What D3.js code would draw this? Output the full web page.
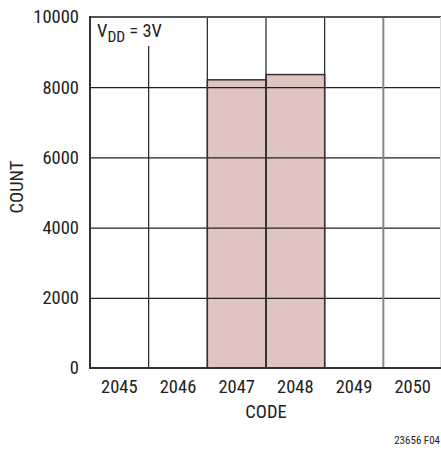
<!DOCTYPE html>
<html>
<head>
<meta charset="utf-8">
<script src="https://cdn.jsdelivr.net/npm/d3@7"></script>
<style>
  html, body { margin: 0; padding: 0; background: #fff; }
  svg { display: block; }
  text { font-family: "Liberation Sans Narrow", "Arial Narrow", "Roboto Condensed", sans-serif; fill: #222; }
</style>
</head>
<body>
<svg id="chart" width="441" height="451"></svg>
<script>
const codes = ["2045", "2046", "2047", "2048", "2049", "2050"];
const counts = [0, 0, 8210, 8360, 0, 0];
const yTicks = [0, 2000, 4000, 6000, 8000, 10000];
const xTitle = "CODE";
const yTitle = "COUNT";
const figId = "23656 F04";

const svg = d3.select("#chart");
const mLeft = 90, mRight = 442, mTop = 17, mBottom = 368;

const x = d3.scaleBand().domain(codes).range([mLeft, mRight]).padding(0);
const y = d3.scaleLinear().domain([0, 10000]).range([mBottom, mTop]);

// bars
svg.append("g").selectAll("rect").data(codes).join("rect")
  .attr("x", d => x(d))
  .attr("width", x.bandwidth())
  .attr("y", (d, i) => y(counts[i]))
  .attr("height", (d, i) => mBottom - y(counts[i]))
  .attr("fill", "#dfc4c0")
  .attr("stroke", "none");

// horizontal grid via axis
const yAxis = svg.append("g").attr("transform", `translate(${mLeft},0)`)
  .call(d3.axisLeft(y).tickValues(yTicks).tickSize(-(mRight - mLeft)).tickPadding(11).tickFormat(d3.format("d")));
yAxis.select(".domain").remove();
yAxis.selectAll(".tick line").attr("stroke", "#222").attr("stroke-width", 1.2);
yAxis.selectAll(".tick text").style("font-size", "18.5px").attr("fill", "#222");

// vertical grid lines at band boundaries
const bounds = codes.slice(1).map(c => x(c));
svg.append("g").selectAll("line").data(bounds).join("line")
  .attr("x1", d => d).attr("x2", d => d)
  .attr("y1", mTop).attr("y2", mBottom)
  .attr("stroke", (d, i) => i === 4 ? "#888" : "#222")
  .attr("stroke-width", (d, i) => i === 4 ? 2 : 1.2);

// bar outlines
svg.append("g").selectAll("rect").data(codes.filter((c, i) => counts[i] > 0)).join("rect")
  .attr("x", d => x(d))
  .attr("width", x.bandwidth())
  .attr("y", d => y(counts[codes.indexOf(d)]))
  .attr("height", d => mBottom - y(counts[codes.indexOf(d)]))
  .attr("fill", "none")
  .attr("stroke", "#333")
  .attr("stroke-width", 1.5);

// VDD label box
svg.append("rect").attr("x", mLeft + 1).attr("y", mTop + 1).attr("width", 76).attr("height", 28).attr("fill", "#fff");
const vdd = svg.append("text").attr("x", 97).attr("y", 37).style("font-size", "18.5px");
vdd.append("tspan").text("V");
vdd.append("tspan").attr("dy", 5).style("font-size", "15.5px").text("DD");
vdd.append("tspan").attr("dy", -5).text(" = 3V");

// frame
svg.append("line").attr("x1", mLeft).attr("x2", mRight).attr("y1", mTop).attr("y2", mTop).attr("stroke", "#555").attr("stroke-width", 2);
svg.append("line").attr("x1", 440.5).attr("x2", 440.5).attr("y1", mTop).attr("y2", mBottom).attr("stroke", "#ddd").attr("stroke-width", 1);
svg.append("line").attr("x1", mLeft).attr("x2", mLeft).attr("y1", mTop - 1).attr("y2", mBottom + 1).attr("stroke", "#333").attr("stroke-width", 2);
svg.append("line").attr("x1", mLeft).attr("x2", mRight).attr("y1", mBottom).attr("y2", mBottom).attr("stroke", "#333").attr("stroke-width", 2);

// x axis labels
const xAxis = svg.append("g").attr("transform", `translate(0,${mBottom})`)
  .call(d3.axisBottom(x).tickSize(0).tickPadding(12));
xAxis.select(".domain").remove();
xAxis.selectAll(".tick text").style("font-size", "18.5px").attr("fill", "#222");

// titles
svg.append("text").attr("x", 266).attr("y", 418).attr("text-anchor", "middle").style("font-size", "18.5px").text(xTitle);
svg.append("text").attr("transform", "translate(23,187) rotate(-90)").attr("text-anchor", "middle").style("font-size", "18.5px").text(yTitle);
svg.append("text").attr("x", 440).attr("y", 444).attr("text-anchor", "end").style("font-size", "11px").text(figId);
</script>
</body>
</html>
